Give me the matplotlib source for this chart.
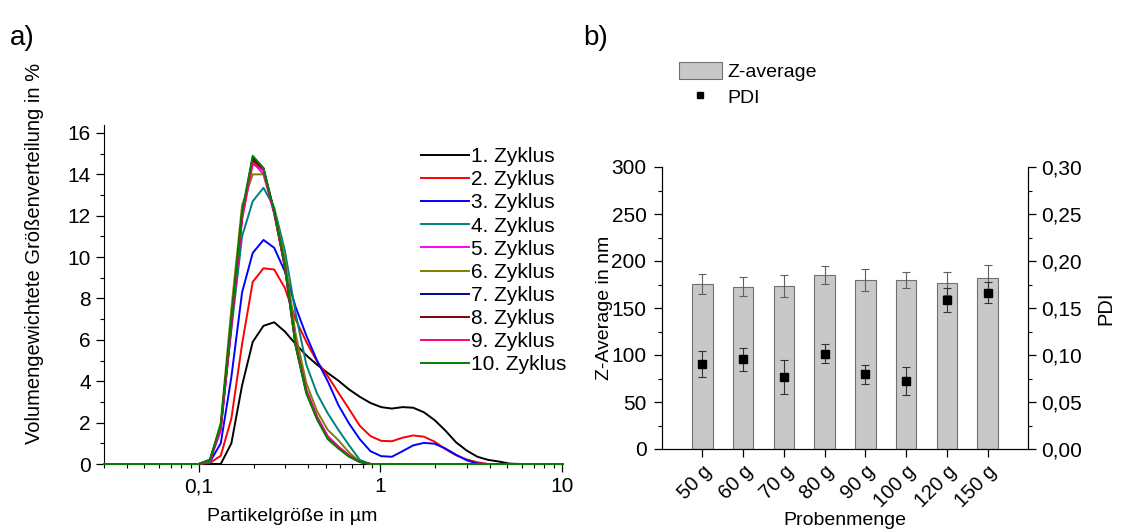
import matplotlib
matplotlib.use('Agg')
import matplotlib.pyplot as plt
from matplotlib.ticker import FuncFormatter, MultipleLocator, LogLocator, FixedLocator
from matplotlib.patches import Patch
from matplotlib.lines import Line2D

plt.rcParams['font.family'] = ['Liberation Sans', 'DejaVu Sans']
plt.rcParams['font.size'] = 12

# --- a) Größenverteilung ---
size_um = [0.030, 0.034, 0.039, 0.044, 0.051, 0.058, 0.067, 0.076, 0.088, 0.100,
           0.115, 0.132, 0.151, 0.173, 0.198, 0.227, 0.260, 0.298, 0.341, 0.391,
           0.448, 0.513, 0.587, 0.673, 0.770, 0.882, 1.010, 1.157, 1.325, 1.517,
           1.738, 1.991, 2.280, 2.612, 2.991, 3.426, 3.924, 4.494, 5.148, 5.896,
           6.753, 7.735, 8.859, 10.15]

zyklus_1 = [0, 0, 0, 0, 0, 0, 0, 0, 0, 0,
            0, 0, 1.0, 3.8, 5.9, 6.68, 6.85, 6.4, 5.8, 5.25,
            4.8, 4.4, 4.03, 3.6, 3.25, 2.95, 2.75, 2.68, 2.75, 2.72,
            2.5, 2.12, 1.62, 1.05, 0.65, 0.35, 0.2, 0.12, 0.02, 0,
            0, 0, 0, 0]
zyklus_2 = [0, 0, 0, 0, 0, 0, 0, 0, 0, 0,
            0.05, 0.4, 2.2, 5.8, 8.8, 9.46, 9.4, 8.5, 7.0, 5.9,
            4.95, 4.25, 3.45, 2.65, 1.85, 1.35, 1.12, 1.1, 1.27, 1.38,
            1.32, 1.08, 0.72, 0.42, 0.22, 0.08, 0, 0, 0, 0,
            0, 0, 0, 0]
zyklus_3 = [0, 0, 0, 0, 0, 0, 0, 0, 0, 0,
            0.1, 1.0, 4.2, 8.3, 10.2, 10.83, 10.45, 9.3, 7.6, 6.2,
            5.0, 4.0, 2.85, 1.95, 1.2, 0.62, 0.38, 0.35, 0.62, 0.9,
            1.02, 0.98, 0.75, 0.45, 0.18, 0.02, 0, 0, 0, 0,
            0, 0, 0, 0]
zyklus_4 = [0, 0, 0, 0, 0, 0, 0, 0, 0, 0,
            0.1, 1.8, 6.5, 11.0, 12.7, 13.35, 12.4, 10.3, 7.3, 4.8,
            3.4, 2.45, 1.65, 0.9, 0.2, 0, 0, 0, 0, 0,
            0, 0, 0, 0, 0, 0, 0, 0, 0, 0,
            0, 0, 0, 0]
zyklus_5 = [0, 0, 0, 0, 0, 0, 0, 0, 0, 0,
            0.15, 1.6, 6.6, 11.8, 14.6, 14.0, 12.1, 9.6, 5.9, 3.6,
            2.3, 1.35, 0.85, 0.42, 0.1, 0, 0, 0, 0, 0,
            0, 0, 0, 0, 0, 0, 0, 0, 0, 0,
            0, 0, 0, 0]
zyklus_6 = [0, 0, 0, 0, 0, 0, 0, 0, 0, 0,
            0.15, 2.0, 7.5, 12.5, 14.0, 14.0, 12.3, 9.9, 6.3, 3.9,
            2.55, 1.65, 1.15, 0.55, 0.12, 0, 0, 0, 0, 0,
            0, 0, 0, 0, 0, 0, 0, 0, 0, 0,
            0, 0, 0, 0]
zyklus_7 = [0, 0, 0, 0, 0, 0, 0, 0, 0, 0,
            0.2, 1.8, 6.9, 12.1, 14.8, 14.3, 12.2, 9.5, 5.75, 3.45,
            2.2, 1.25, 0.78, 0.37, 0.1, 0, 0, 0, 0, 0,
            0, 0, 0, 0, 0, 0, 0, 0, 0, 0,
            0, 0, 0, 0]
zyklus_8 = [0, 0, 0, 0, 0, 0, 0, 0, 0, 0,
            0.2, 1.8, 6.8, 12.0, 14.7, 14.2, 12.2, 9.5, 5.8, 3.5,
            2.2, 1.25, 0.8, 0.38, 0.1, 0, 0, 0, 0, 0,
            0, 0, 0, 0, 0, 0, 0, 0, 0, 0,
            0, 0, 0, 0]
zyklus_9 = [0, 0, 0, 0, 0, 0, 0, 0, 0, 0,
            0.18, 1.7, 6.7, 11.9, 14.5, 14.2, 12.1, 9.5, 5.8, 3.5,
            2.25, 1.3, 0.82, 0.4, 0.1, 0, 0, 0, 0, 0,
            0, 0, 0, 0, 0, 0, 0, 0, 0, 0,
            0, 0, 0, 0]
zyklus_10 = [0, 0, 0, 0, 0, 0, 0, 0, 0, 0,
             0.2, 1.9, 7.0, 12.2, 14.9, 14.3, 12.2, 9.6, 5.7, 3.4,
             2.15, 1.2, 0.75, 0.35, 0.1, 0, 0, 0, 0, 0,
             0, 0, 0, 0, 0, 0, 0, 0, 0, 0,
             0, 0, 0, 0]

zyklen = [zyklus_1, zyklus_2, zyklus_3, zyklus_4, zyklus_5,
          zyklus_6, zyklus_7, zyklus_8, zyklus_9, zyklus_10]
zyklus_labels = ['1. Zyklus', '2. Zyklus', '3. Zyklus', '4. Zyklus', '5. Zyklus',
                 '6. Zyklus', '7. Zyklus', '8. Zyklus', '9. Zyklus', '10. Zyklus']
zyklus_colors = ['#000000', '#ff0000', '#0000ff', '#008080', '#ff00ff',
                 '#808000', '#0000a0', '#800000', '#ff0080', '#008000']

# --- b) Z-average / PDI ---
proben = ['50 g', '60 g', '70 g', '80 g', '90 g', '100 g', '120 g', '150 g']
z_average = [175.6, 172.5, 173.2, 185.2, 180.3, 179.9, 176.5, 181.7]
z_average_err = [10.7, 10.0, 12.0, 9.2, 11.7, 8.7, 12.3, 14.0]
pdi = [0.0903, 0.0953, 0.0764, 0.1013, 0.0793, 0.0725, 0.1585, 0.1664]
pdi_err = [0.0142, 0.0118, 0.0180, 0.0103, 0.0098, 0.0150, 0.0127, 0.0114]

W, H = 1123, 532
fig = plt.figure(figsize=(W / 100, H / 100), dpi=100)


def comma(v, pos):
    return ('%g' % v).replace('.', ',')


def style_ticks(ax):
    ax.tick_params(which='major', direction='out', length=6, width=0.9, labelsize=15)
    ax.tick_params(which='minor', direction='out', length=3, width=0.8)


# ---------------- a) ----------------
ax1 = fig.add_axes([104 / W, 1 - 464 / H, (563 - 104) / W, (464 - 124.7) / H])
for vals, lab, col in zip(zyklen, zyklus_labels, zyklus_colors):
    ax1.plot(size_um, vals, color=col, lw=1.4, label=lab, clip_on=False, zorder=3)
ax1.set_xscale('log')
ax1.set_xlim(size_um[0], size_um[-1])
ax1.set_ylim(0, 16.4)
ax1.xaxis.set_major_locator(FixedLocator([0.1, 1, 10]))
ax1.xaxis.set_minor_locator(LogLocator(base=10, subs=range(2, 10)))
ax1.xaxis.set_major_formatter(FuncFormatter(comma))
ax1.xaxis.set_minor_formatter(FuncFormatter(lambda v, p: ''))
ax1.yaxis.set_major_locator(MultipleLocator(2))
ax1.yaxis.set_minor_locator(MultipleLocator(1))
ax1.spines['top'].set_visible(False)
ax1.spines['right'].set_visible(False)
style_ticks(ax1)
ax1.set_xlabel('Partikelgröße in µm', fontsize=14)
ax1.xaxis.set_label_coords(0.41, -0.13)
ax1.set_ylabel('Volumengewichtete Größenverteilung in %', fontsize=14.5)
ax1.yaxis.set_label_coords(-0.131, 0.622)
ax1.legend(loc='upper right', bbox_to_anchor=(566 / W, 1 - 147 / H),
           bbox_transform=fig.transFigure, frameon=False, fontsize=15,
           handlelength=2.3, handletextpad=0.1, labelspacing=0.2,
           borderpad=0, borderaxespad=0)

# ---------------- b) ----------------
ax2 = fig.add_axes([661.7 / W, 1 - 449 / H, (1028.3 - 661.7) / W, (449 - 167) / H])
xpos = list(range(len(proben)))
ax2.bar(xpos, z_average, width=0.5, color='#c8c8c8', edgecolor='#707070',
        linewidth=0.8, zorder=2)
ax2.errorbar(xpos, z_average, yerr=z_average_err, fmt='none', ecolor='#606060',
             elinewidth=0.8, capsize=3, capthick=0.8, zorder=3)
ax2.set_xlim(-1, 8)
ax2.set_ylim(0, 300)
ax2.set_xticks(xpos)
ax2.set_xticklabels(proben, rotation=45, ha='right', rotation_mode='anchor')
ax2.yaxis.set_major_locator(MultipleLocator(50))
ax2.yaxis.set_minor_locator(MultipleLocator(25))
ax2.spines['top'].set_visible(False)
style_ticks(ax2)
ax2.tick_params(axis='x', which='major', labelsize=14.5)
ax2.tick_params(axis='x', which='minor', length=0)
ax2.tick_params(axis='y', which='major', pad=5)
ax2.set_ylabel('Z-Average in nm', fontsize=14)
ax2.yaxis.set_label_coords(-0.133, 0.5)
ax2.set_xlabel('Probenmenge', fontsize=14)
ax2.xaxis.set_label_coords(0.5, -0.225)

ax3 = ax2.twinx()
ax3.errorbar(xpos, pdi, yerr=pdi_err, fmt='s', color='black', ms=5.5,
             ecolor='#333333', elinewidth=0.8, capsize=3, capthick=0.8, zorder=4)
ax3.set_ylim(0, 0.3)
ax3.yaxis.set_major_locator(MultipleLocator(0.05))
ax3.yaxis.set_minor_locator(MultipleLocator(0.025))
ax3.yaxis.set_major_formatter(FuncFormatter(lambda v, p: ('%.2f' % v).replace('.', ',')))
ax3.spines['top'].set_visible(False)
style_ticks(ax3)
ax3.set_ylabel('PDI', fontsize=14.5)
ax3.yaxis.set_label_coords(1.187, 0.5)

handles = [Patch(facecolor='#c8c8c8', edgecolor='#707070', linewidth=0.8),
           Line2D([], [], marker='s', color='black', linestyle='None', markersize=5)]
fig.legend(handles, ['Z-average', 'PDI'], loc='upper left',
           bbox_to_anchor=(679 / W, 1 - 62 / H), frameon=False, fontsize=14,
           handlelength=2.2, handleheight=0.93, handletextpad=0.3,
           labelspacing=0.36, borderpad=0, borderaxespad=0)

fig.text(10 / W, 1 - 38 / H, 'a)', fontsize=20, va='center')
fig.text(583 / W, 1 - 38 / H, 'b)', fontsize=20, va='center')

fig.savefig('out.png', dpi=100)
